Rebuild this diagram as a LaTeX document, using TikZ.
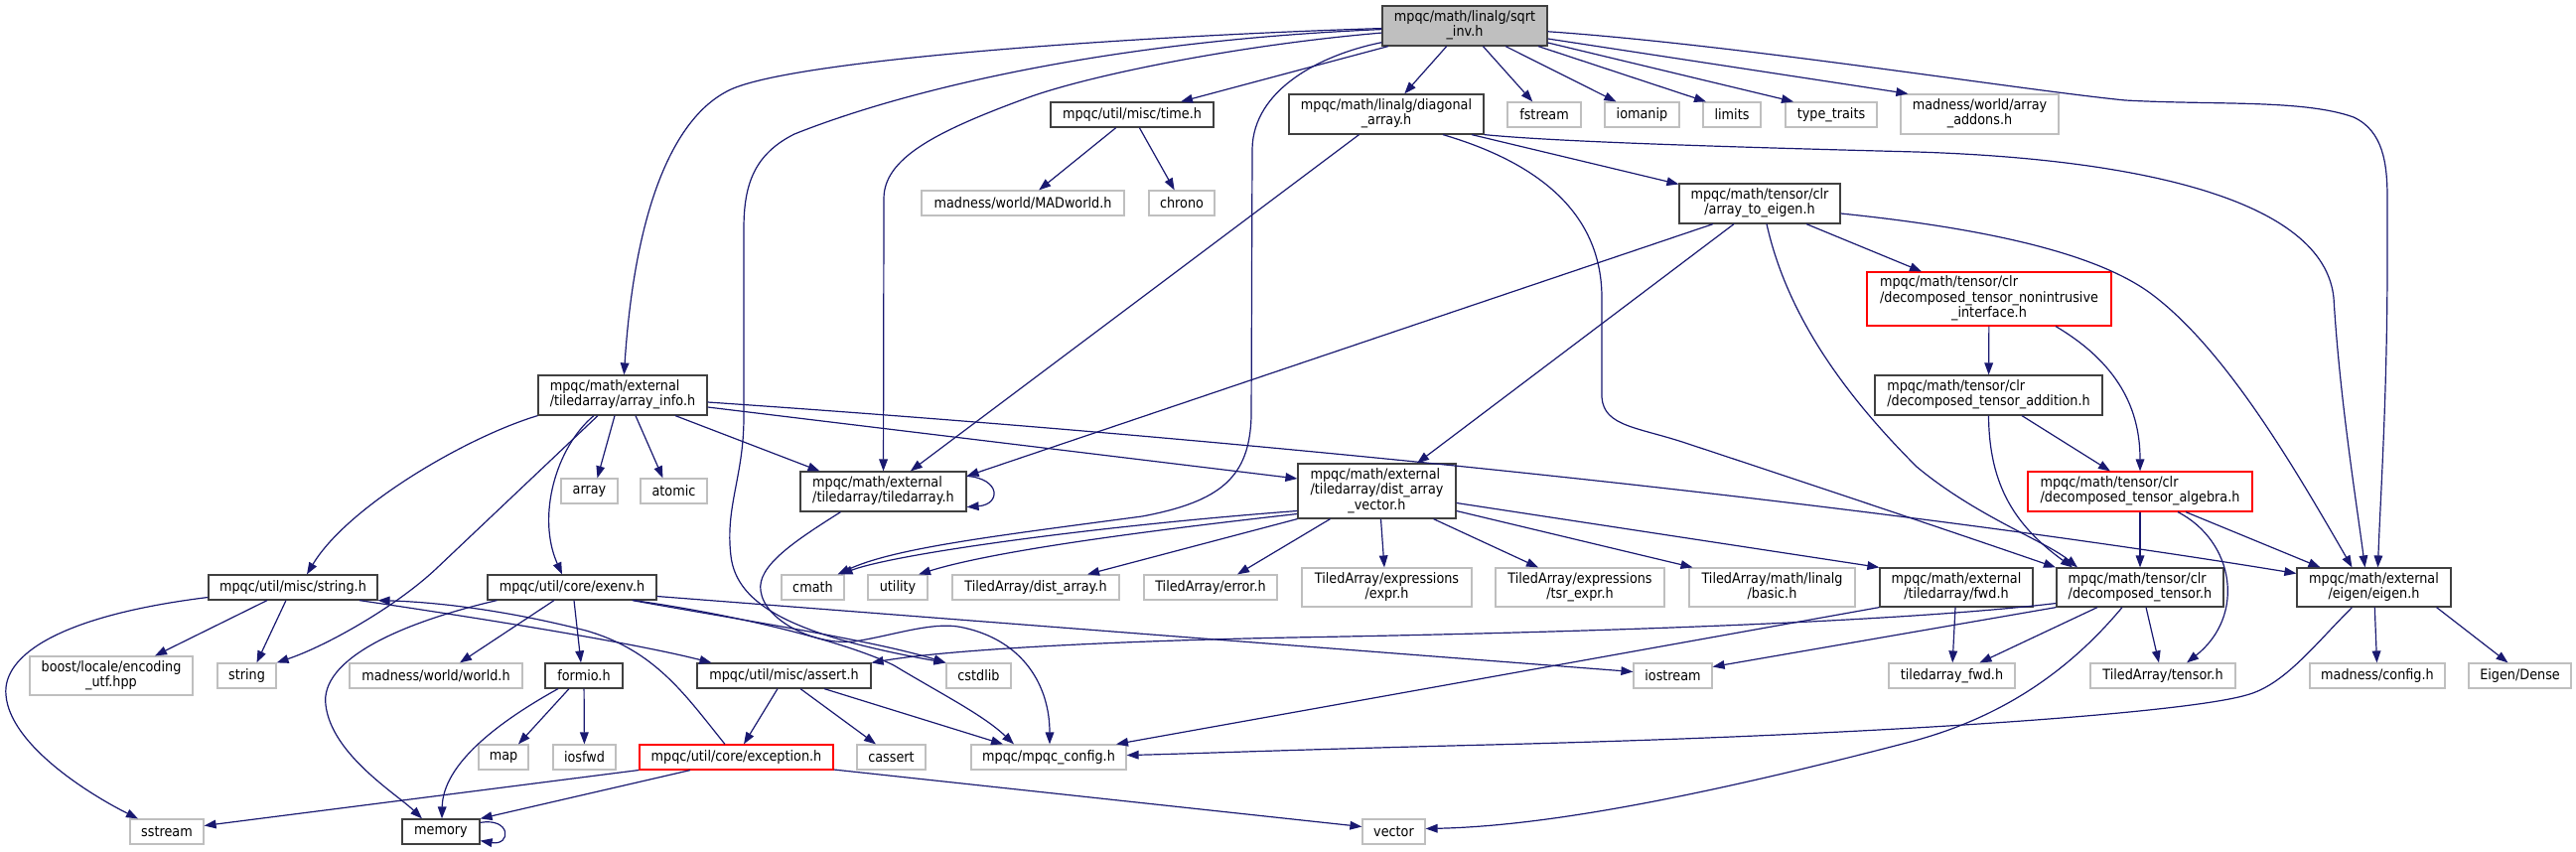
\documentclass[tikz,border=0pt]{standalone}
\usepackage{fontspec}
\setmainfont{DejaVu Sans}[FakeStretch=0.89]
\usetikzlibrary{arrows.meta}
\definecolor{edgec}{HTML}{191970}
\definecolor{grayb}{HTML}{BFBFBF}
\definecolor{darkb}{HTML}{404040}
\newcommand{\twoln}[2]{\begin{tabular}{@{}l@{}}#1\\\multicolumn{1}{@{}c@{}}{#2}\end{tabular}}
\newcommand{\threeln}[3]{\begin{tabular}{@{}l@{}}#1\\#2\\\multicolumn{1}{@{}c@{}}{#3}\end{tabular}}
\newcommand{\nd}[7]{\node[#6, minimum width=#4*0.75pt, minimum height=#5*0.75pt] (#1) at (#2,#3) {#7};}
\tikzset{
  basebox/.style={rectangle, inner sep=0pt, line width=0.9pt, fill=white, text=black, font=\fontsize{10.8}{11.25}\selectfont},
  docbox/.style={basebox, draw=darkb},
  extbox/.style={basebox, draw=grayb},
  redbox/.style={basebox, draw=red},
  rootbox/.style={basebox, draw=darkb, fill=grayb},
  conn/.style={draw=edgec, line width=0.9pt, -{Triangle[length=9pt,width=6.5pt]}},
}
\begin{document}
\begin{tikzpicture}[x=0.75pt,y=-0.75pt]
\useasboundingbox (0,0) rectangle (2594,857);
% ---- nodes
\nd{root}{1475}{26}{166}{40}{rootbox}{\twoln{mpqc/math/linalg/sqrt}{\_inv.h}}
\nd{time}{1140}{115.5}{164}{25}{docbox}{mpqc/util/misc/time.h}
\nd{diag}{1396}{115}{196}{40}{docbox}{\twoln{mpqc/math/linalg/diagonal}{\_array.h}}
\nd{fstream}{1555}{115.5}{74}{25}{extbox}{fstream}
\nd{iomanip}{1653.5}{115.5}{75}{25}{extbox}{iomanip}
\nd{limits}{1744}{115.5}{58}{25}{extbox}{limits}
\nd{typetraits}{1844}{115.5}{92}{25}{extbox}{type\_traits}
\nd{addons}{1993.5}{115}{159}{40}{extbox}{\twoln{madness/world/array}{\_addons.h}}
\nd{madworld}{1030}{204.5}{204}{25}{extbox}{madness/world/MADworld.h}
\nd{chrono}{1190}{204.5}{66}{25}{extbox}{chrono}
\nd{atoe}{1772}{205}{162}{40}{docbox}{\twoln{mpqc/math/tensor/clr}{/array\_to\_eigen.h}}
\nd{nonintr}{2003}{301}{246}{54}{redbox}{\threeln{mpqc/math/tensor/clr}{/decomposed\_tensor\_nonintrusive}{\_interface.h}}
\nd{arrinfo}{627}{398}{170}{40}{docbox}{\twoln{mpqc/math/external}{/tiledarray/array\_info.h}}
\nd{addition}{2002.5}{398}{229}{40}{docbox}{\twoln{mpqc/math/tensor/clr}{/decomposed\_tensor\_addition.h}}
\nd{array}{593.5}{494.5}{57}{25}{extbox}{array}
\nd{atomic}{678.5}{494.5}{67}{25}{extbox}{atomic}
\nd{tiledarray}{889.5}{495}{167}{40}{docbox}{\twoln{mpqc/math/external}{/tiledarray/tiledarray.h}}
\nd{dav}{1386.5}{494.5}{159}{55}{docbox}{\threeln{mpqc/math/external}{/tiledarray/dist\_array}{\_vector.h}}
\nd{algebra}{2155}{495}{226}{40}{redbox}{\twoln{mpqc/math/tensor/clr}{/decomposed\_tensor\_algebra.h}}
\nd{stringh}{295}{591.5}{170}{25}{docbox}{mpqc/util/misc/string.h}
\nd{exenv}{576}{591.5}{170}{25}{docbox}{mpqc/util/core/exenv.h}
\nd{cmath}{818.5}{591.5}{63}{25}{extbox}{cmath}
\nd{utility}{904}{591.5}{60}{25}{extbox}{utility}
\nd{distarray}{1043}{591.5}{168}{25}{extbox}{TiledArray/dist\_array.h}
\nd{error}{1219}{591.5}{134}{25}{extbox}{TiledArray/error.h}
\nd{expr}{1396.5}{591.5}{171}{39}{extbox}{\twoln{TiledArray/expressions}{/expr.h}}
\nd{tsrexpr}{1591}{591.5}{170}{39}{extbox}{\twoln{TiledArray/expressions}{/tsr\_expr.h}}
\nd{basic}{1784.5}{591.5}{167}{39}{extbox}{\twoln{TiledArray/math/linalg}{/basic.h}}
\nd{fwd}{1970}{591.5}{154}{39}{docbox}{\twoln{mpqc/math/external}{/tiledarray/fwd.h}}
\nd{dten}{2155}{591.5}{168}{39}{docbox}{\twoln{mpqc/math/tensor/clr}{/decomposed\_tensor.h}}
\nd{eigen}{2390.5}{591.5}{155}{39}{docbox}{\twoln{mpqc/math/external}{/eigen/eigen.h}}
\nd{boost}{112}{680.5}{164}{39}{extbox}{\twoln{boost/locale/encoding}{\_utf.hpp}}
\nd{string}{248.5}{680.5}{59}{25}{extbox}{string}
\nd{world}{439}{680.5}{174}{25}{extbox}{madness/world/world.h}
\nd{formio}{588}{680.5}{78}{25}{docbox}{formio.h}
\nd{assert}{789.5}{680.5}{175}{25}{docbox}{mpqc/util/misc/assert.h}
\nd{cstdlib}{985.5}{680.5}{65}{25}{extbox}{cstdlib}
\nd{iostream}{1684.5}{680.5}{79}{25}{extbox}{iostream}
\nd{tafwd}{1965.5}{680.5}{127}{25}{extbox}{tiledarray\_fwd.h}
\nd{tensor}{2178}{680.5}{146}{25}{extbox}{TiledArray/tensor.h}
\nd{madconf}{2394}{680.5}{136}{25}{extbox}{madness/config.h}
\nd{eigdense}{2537.5}{680.5}{103}{25}{extbox}{Eigen/Dense}
\nd{map}{507}{762.5}{50}{25}{extbox}{map}
\nd{iosfwd}{588.5}{762.5}{63}{25}{extbox}{iosfwd}
\nd{exception}{741.5}{762.5}{195}{25}{redbox}{mpqc/util/core/exception.h}
\nd{cassert}{897.5}{762.5}{69}{25}{extbox}{cassert}
\nd{config}{1056}{762.5}{156}{25}{extbox}{mpqc/mpqc\_config.h}
\nd{sstream}{168}{837.5}{74}{25}{extbox}{sstream}
\nd{memory}{444}{837.5}{78}{25}{docbox}{memory}
\nd{vector}{1403.5}{837.5}{63}{25}{extbox}{vector}
% ---- edges from root
\draw[conn] (root) .. controls (1150,36) and (790,60) .. (732,92) .. controls (682,118) and (640,200) .. (arrinfo);
\draw[conn] (root) .. controls (1100,42) and (900,95) .. (800,135) .. controls (760,155) and (749,185) .. (749,230) -- (749,420) .. controls (749,480) and (730,510) .. (736,560) .. controls (742,610) and (800,640) .. (cstdlib.north west);
\draw[conn] (root) .. controls (1250,45) and (1100,75) .. (1036,98) .. controls (940,133) and (890,160) .. (890,200) -- (tiledarray);
\draw[conn] (root) .. controls (1330,55) and (1262,90) .. (1261,150) -- (1260,420) .. controls (1258,480) and (1230,505) .. (1150,520) .. controls (1000,540) and (900,552) .. ([shift={(25,0)}]cmath.north);
\draw[conn] (root) -- (time);
\draw[conn] (root) -- (diag);
\draw[conn] (root) -- (fstream);
\draw[conn] (root) -- (iomanip);
\draw[conn] ([shift={(74,0)}]root.south) -- ([shift={(-26,0)}]limits.north);
\draw[conn] ([shift={(0,17)}]root.east) -- ([shift={(-38,0)}]typetraits.north);
\draw[conn] ([shift={(0,13)}]root.east) -- ([shift={(8,0)}]addons.north west);
\draw[conn] (root) .. controls (1750,45) and (2030,90) .. (2140,101) .. controls (2230,106) and (2320,100) .. (2370,118) .. controls (2400,132) and (2404,165) .. (2404,200) -- (2404,260) .. controls (2404,400) and (2397,500) .. ([shift={(4,0)}]eigen.north);
% time.h
\draw[conn] (time) -- (madworld);
\draw[conn] (time) -- (chrono);
% diagonal_array.h
\draw[conn] (diag) -- (tiledarray);
\draw[conn] (diag) -- (atoe);
\draw[conn] ([shift={(57,0)}]diag.south) .. controls (1570,170) and (1613,230) .. (1613,300) -- (1613,400) .. controls (1615,430) and (1650,430) .. (1700,447) .. controls (1800,480) and (1950,530) .. ([shift={(-85,0)}]dten.north);
\draw[conn] (diag.south east) .. controls (1560,142) and (1700,147) .. (1930,153) .. controls (2150,160) and (2340,200) .. (2350,300) .. controls (2356,400) and (2372,500) .. ([shift={(-9,0)}]eigen.north);
% array_to_eigen.h
\draw[conn] ([shift={(-47,0)}]atoe.south) -- ([shift={(0,5)}]tiledarray.north east);
\draw[conn] ([shift={(-26,0)}]atoe.south) -- ([shift={(40.5,0)}]dav.north);
\draw[conn] ([shift={(7,0)}]atoe.south) .. controls (1800,320) and (1860,400) .. (1930,470) .. controls (1990,520) and (2060,545) .. ([shift={(-63,0)}]dten.north);
\draw[conn] ([shift={(47,0)}]atoe.south) -- ([shift={(-68,0)}]nonintr.north);
\draw[conn] ([shift={(0,10)}]atoe.east) .. controls (2000,230) and (2110,255) .. (2165,295) .. controls (2240,350) and (2310,470) .. ([shift={(-22,0)}]eigen.north);
% nonintrusive, addition, algebra
\draw[conn] (nonintr) -- (addition);
\draw[conn] ([shift={(67,0)}]nonintr.south) .. controls (2140,370) and (2155,420) .. (algebra);
\draw[conn] ([shift={(33.5,0)}]addition.south) -- ([shift={(-30,0)}]algebra.north);
\draw[conn] (addition.south) .. controls (2003,490) and (2030,530) .. ([shift={(-68,0)}]dten.north);
\draw[conn] (algebra) -- (dten);
\draw[conn] ([shift={(38,0)}]algebra.south) .. controls (2250,545) and (2262,620) .. ([shift={(24,0)}]tensor.north);
\draw[conn] ([shift={(46,0)}]algebra.south) -- ([shift={(-54,0)}]eigen.north);
% array_info.h
\draw[conn] (arrinfo.south west) .. controls (470,440) and (350,510) .. ([shift={(14,0)}]stringh.north);
\draw[conn] ([shift={(-29,0)}]arrinfo.south) .. controls (560,450) and (540,520) .. ([shift={(-10,0)}]exenv.north);
\draw[conn] ([shift={(-25,0)}]arrinfo.south) -- (440,572) .. controls (400,610) and (330,650) .. (string.north east);
\draw[conn] ([shift={(-8,0)}]arrinfo.south) -- ([shift={(8,0)}]array.north);
\draw[conn] ([shift={(13,0)}]arrinfo.south) -- ([shift={(-11,0)}]atomic.north);
\draw[conn] ([shift={(53,0)}]arrinfo.south) -- ([shift={(-64,0)}]tiledarray.north);
\draw[conn] ([shift={(0,12)}]arrinfo.east) -- ([shift={(0,-12.5)}]dav.west);
\draw[conn] ([shift={(0,7)}]arrinfo.east) .. controls (1300,445) and (1900,510) .. ([shift={(0,-14)}]eigen.west);
% tiledarray.h
\draw[conn] ([shift={(0,5)}]tiledarray.north east) .. controls (1008,482) and (1008,508) .. ([shift={(0,-5)}]tiledarray.south east);
\draw[conn] ([shift={(-43,0)}]tiledarray.south) .. controls (800,545) and (762,570) .. (766,595) .. controls (770,625) and (820,650) .. (860,646) .. controls (900,640) and (940,625) .. (970,632) .. controls (1030,645) and (1057,690) .. ([shift={(1,0)}]config.north);
% dist_array_vector.h
\draw[conn] ([shift={(0,20)}]dav.west) .. controls (1100,530) and (900,558) .. ([shift={(28,0)}]cmath.north);
\draw[conn] ([shift={(0,23)}]dav.west) .. controls (1150,535) and (1000,555) .. ([shift={(21,0)}]utility.north);
\draw[conn] (dav.south west) -- ([shift={(52,0)}]distarray.north);
\draw[conn] ([shift={(-47,0)}]dav.south) -- ([shift={(27,0)}]error.north);
\draw[conn] ([shift={(4,0)}]dav.south) -- ([shift={(-2.5,0)}]expr.north);
\draw[conn] ([shift={(57,0)}]dav.south) -- ([shift={(-42,0)}]tsrexpr.north);
\draw[conn] ([shift={(0,20)}]dav.east) -- ([shift={(-80,0)}]basic.north);
\draw[conn] ([shift={(0,12)}]dav.east) -- (fwd.north west);
% string.h
\draw[conn] ([shift={(-26,0)}]stringh.south) -- ([shift={(44,0)}]boost.north);
\draw[conn] ([shift={(-7,0)}]stringh.south) -- ([shift={(10,0)}]string.north);
\draw[conn] ([shift={(0,10)}]stringh.west) .. controls (60,620) and (2,660) .. (6,700) .. controls (10,750) and (90,800) .. ([shift={(-29,0)}]sstream.north);
\draw[conn] ([shift={(67,0)}]stringh.south) .. controls (500,625) and (640,648) .. ([shift={(-73,0)}]assert.north);
% exception.h
\draw[conn] ([shift={(-11.5,0)}]exception.north) .. controls (690,700) and (660,655) .. (590,635) .. controls (500,612) and (430,606) .. (stringh.south east);
\draw[conn] ([shift={(0,13)}]exception.west) -- ([shift={(0,-6)}]sstream.east);
\draw[conn] ([shift={(-46.5,0)}]exception.south) -- (memory.north east);
\draw[conn] ([shift={(0,12.5)}]exception.east) -- ([shift={(0,-5)}]vector.west);
% exenv.h
\draw[conn] ([shift={(10,0)}]exenv.south west) .. controls (400,628) and (322,665) .. (328,710) .. controls (334,760) and (400,800) .. ([shift={(-19,0)}]memory.north);
\draw[conn] ([shift={(-18,0)}]exenv.south) -- ([shift={(24,0)}]world.north);
\draw[conn] ([shift={(2,0)}]exenv.south) -- ([shift={(-3,0)}]formio.north);
\draw[conn] ([shift={(-25,0)}]exenv.south east) .. controls (750,625) and (880,645) .. (cstdlib.north west);
\draw[conn] ([shift={(-23,0)}]exenv.south east) .. controls (760,622) and (860,650) .. (900,670) .. controls (950,700) and (990,720) .. ([shift={(-35,0)}]config.north);
\draw[conn] ([shift={(0,9)}]exenv.east) -- ([shift={(0,-4)}]iostream.west);
% formio.h
\draw[conn] ([shift={(-15,0)}]formio.south) -- ([shift={(15,0)}]map.north);
\draw[conn] (formio) -- (iosfwd);
\draw[conn] ([shift={(-26,0)}]formio.south) .. controls (500,728) and (446,770) .. ([shift={(1,0)}]memory.north);
% memory self loop
\draw[conn] ([shift={(0,4)}]memory.north east) .. controls (515,823) and (515,852) .. ([shift={(0,-4)}]memory.south east);
% assert.h
\draw[conn] ([shift={(-6.5,0)}]assert.south) -- ([shift={(7.5,0)}]exception.north);
\draw[conn] ([shift={(16.5,0)}]assert.south) -- ([shift={(-15.5,0)}]cassert.north);
\draw[conn] ([shift={(40.5,0)}]assert.south) -- ([shift={(-46,0)}]config.north);
% fwd.h
\draw[conn] (fwd) -- (tafwd);
\draw[conn] (fwd.south west) -- ([shift={(68,0)}]config.north);
% decomposed_tensor.h
\draw[conn] ([shift={(0,16)}]dten.west) .. controls (1950,622) and (1700,635) .. (1300,642) .. controls (1100,646) and (950,655) .. (assert.north east);
\draw[conn] (dten.south west) -- ([shift={(0,-9)}]iostream.east);
\draw[conn] ([shift={(-43,0)}]dten.south) -- ([shift={(28,0)}]tafwd.north);
\draw[conn] ([shift={(6,0)}]dten.south) -- ([shift={(-4,0)}]tensor.north);
\draw[conn] ([shift={(-18,0)}]dten.south) .. controls (2080,680) and (2010,725) .. (1920,748) .. controls (1720,800) and (1560,832) .. ([shift={(0,-3)}]vector.east);
% eigen.h
\draw[conn] (eigen) -- (madconf);
\draw[conn] ([shift={(63,0)}]eigen.south) -- ([shift={(-12,0)}]eigdense.north);
\draw[conn] ([shift={(-22,0)}]eigen.south) .. controls (2330,650) and (2300,690) .. (2262,700) .. controls (2200,718) and (1900,740) .. (1500,750) .. controls (1300,755) and (1200,759) .. ([shift={(0,-2)}]config.east);
\end{tikzpicture}
\end{document}
